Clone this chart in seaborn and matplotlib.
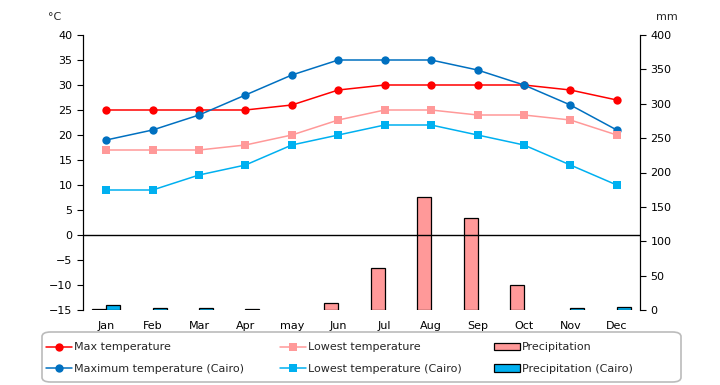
import matplotlib
matplotlib.use("Agg")
from matplotlib import pyplot as plt
from matplotlib.patches import FancyBboxPatch
import pandas as pd
import seaborn as sns

months = ["Jan", "Feb", "Mar", "Apr", "may", "Jun", "Jul", "Aug", "Sep", "Oct", "Nov", "Dec"]
max_temp = [25, 25, 25, 25, 26, 29, 30, 30, 30, 30, 29, 27]
low_temp = [17, 17, 17, 18, 20, 23, 25, 25, 24, 24, 23, 20]
max_cairo = [19, 21, 24, 28, 32, 35, 35, 35, 33, 30, 26, 21]
low_cairo = [9, 9, 12, 14, 18, 20, 22, 22, 20, 18, 14, 10]
precip = [1, 0, 0, 0, 0, 10, 61, 164, 134, 36, 0, 0]
precip_cairo = [7, 2.5, 2.5, 1, 0, 0, 0, 0, 0, 0, 2.5, 4]

sns.set_style("white")
plt.rcParams["font.family"] = ["DejaVu Sans"]

fig = plt.figure(figsize=(7.2, 3.85), dpi=100)
ax = fig.add_axes([83 / 720, 1 - 310 / 385, 557 / 720, 275 / 385])
ax2 = ax.twinx()

# bars on the back axis, lines on the front axis
ax.set_zorder(ax2.get_zorder() + 1)
ax.patch.set_visible(False)
ax2.set_facecolor("#FFFFCC")

rain = pd.DataFrame({
    "month": months * 2,
    "mm": precip + precip_cairo,
    "series": ["Precipitation"] * 12 + ["Precipitation (Cairo)"] * 12,
})
sns.barplot(data=rain, x="month", y="mm", hue="series", order=months,
            palette=["#FF9999", "#00B0F0"], saturation=1, width=0.6,
            edgecolor="black", linewidth=0.9, ax=ax2, legend=False)
for p in ax2.patches:
    if p.get_height() == 0:
        p.set_linewidth(0)

x = list(range(12))
line_specs = [
    (max_temp, "Max temperature", "#FF0000", "o"),
    (max_cairo, "Maximum temperature (Cairo)", "#0070C0", "o"),
    (low_temp, "Lowest temperature", "#FF9999", "s"),
    (low_cairo, "Lowest temperature (Cairo)", "#00B0F0", "s"),
]
for vals, name, col, mk in line_specs:
    sns.lineplot(x=x, y=vals, color=col, marker=mk, markersize=6,
                 markeredgewidth=0, linewidth=1.1, label=name, ax=ax)

ax.axhline(0, color="black", linewidth=1)

ax.set_xlim(-0.5, 11.5)
ax2.set_xlim(-0.5, 11.5)
ax.set_ylim(-15, 40)
ax.set_yticks(range(-15, 41, 5))
ax2.set_ylim(0, 400)
ax2.set_yticks(range(0, 401, 50))
ax.set_xticks(x)
ax.set_xticklabels(months)
ax.set_xlabel("")
ax.set_ylabel("")
ax2.set_xlabel("")
ax2.set_ylabel("")

for a in (ax, ax2):
    a.spines["top"].set_visible(False)
    a.spines["bottom"].set_visible(False)
    a.spines["left"].set_color("black")
    a.spines["right"].set_color("black")
    a.tick_params(axis="both", labelsize=8, colors="black")
ax.tick_params(axis="x", length=0, pad=8)
ax2.tick_params(axis="x", length=0, labelbottom=False)
ax.tick_params(axis="y", left=True, length=4, width=0.8, direction="out")
ax2.tick_params(axis="y", right=True, length=4, width=0.8, direction="out")

fig.text(55 / 720, 1 - 17 / 385, "°C", fontsize=8, ha="center", va="center")
fig.text(667 / 720, 1 - 17 / 385, "mm", fontsize=8, ha="center", va="center")

# legend: rounded frame with three columns
handles, labels = ax.get_legend_handles_labels()
ax.get_legend().remove()
frame = FancyBboxPatch((42 / 720, 3 / 385), 639 / 720, 50 / 385,
                       boxstyle="round,pad=0,rounding_size=0.012",
                       transform=fig.transFigure, facecolor="white",
                       edgecolor="#BBBBBB", linewidth=1.2, zorder=0)
fig.patches.append(frame)

columns = [
    ([handles[0], handles[1]], [labels[0], labels[1]], 46),
    ([handles[2], handles[3]], [labels[2], labels[3]], 280),
    ([ax2.patches[0], ax2.patches[12]], ["Precipitation", "Precipitation (Cairo)"], 494),
]
for hs, ls, xpx in columns:
    lg = fig.legend(hs, ls, loc="center left",
                    bbox_to_anchor=(xpx / 720, 27 / 385),
                    fontsize=8, frameon=False, handlelength=2.3,
                    handletextpad=0.2, borderaxespad=0, borderpad=0,
                    labelspacing=1.0)

fig.savefig("out.png", dpi=100)
